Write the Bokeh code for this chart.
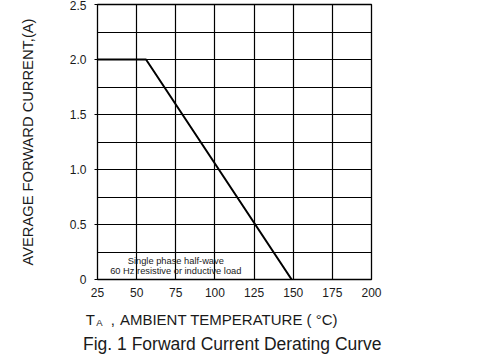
from bokeh.plotting import figure
from bokeh.models import Range1d, FixedTicker, Label, Div
from bokeh.layouts import column
from bokeh.embed import file_html
from bokeh.resources import INLINE

# data
temp_c = [25, 56, 149]
current_a = [2.0, 2.0, 0.0]
x_ticks = [25, 50, 75, 100, 125, 150, 175, 200]
y_ticks = [0, 0.5, 1.0, 1.5, 2.0, 2.5]
y_tick_labels = ["0", "0.5", "1.0", "1.5", "2.0", "2.5"]
y_grid = [0, 0.25, 0.5, 0.75, 1.0, 1.25, 1.5, 1.75, 2.0, 2.25, 2.5]
note_lines = ["Single phase half-wave", "60 Hz resistive or inductive load"]
y_title = "AVERAGE FORWARD CURRENT,(A)"
x_title_main, x_title_sub, x_title_rest, x_title_unit = "T", "A", ",", "AMBIENT TEMPERATURE (  °C)"
caption = "Fig. 1 Forward Current Derating Curve"

FONT = "Liberation Sans"
TXT = "#1a1a1a"

p = figure(width=482, height=302, output_backend="svg", toolbar_location=None,
           x_range=Range1d(25, 200), y_range=Range1d(0, 2.5),
           min_border_left=97, min_border_right=111, min_border_top=4, min_border_bottom=23)
p.background_fill_color = "white"
p.border_fill_color = "white"
p.outline_line_color = "black"
p.outline_line_width = 1.3

p.xaxis.ticker = FixedTicker(ticks=x_ticks)
p.yaxis.ticker = FixedTicker(ticks=y_ticks)
p.yaxis.major_label_overrides = {t: l for t, l in zip(y_ticks, y_tick_labels)}
p.xgrid.ticker = FixedTicker(ticks=x_ticks)
p.ygrid.ticker = FixedTicker(ticks=y_grid)
for g in (p.xgrid, p.ygrid):
    g.grid_line_color = "black"
    g.grid_line_width = 1.2
    g.grid_line_alpha = 1.0

for ax in (p.xaxis, p.yaxis):
    ax.axis_line_color = None
    ax.minor_tick_line_color = None
    ax.major_label_text_font = FONT
    ax.major_label_text_font_size = "12px"
    ax.major_label_text_color = TXT
    ax.major_tick_in = 0
p.xaxis.major_tick_line_color = None
p.xaxis.major_tick_out = 0
p.xaxis.major_label_standoff = 8
p.yaxis.major_tick_line_color = "black"
p.yaxis.major_tick_out = 3
p.yaxis.major_label_standoff = 8

p.yaxis.axis_label = y_title
p.yaxis.axis_label_text_font = FONT
p.yaxis.axis_label_text_font_size = "14.7px"
p.yaxis.axis_label_text_font_style = "normal"
p.yaxis.axis_label_text_color = TXT
p.yaxis.axis_label_standoff = 31

p.line(temp_c, current_a, line_color="black", line_width=2)

for i, t in enumerate(note_lines):
    p.add_layout(Label(x=75, y=0, y_offset=19 - 10.5 * i, text=t,
                       text_align="center", text_baseline="alphabetic",
                       text_font=FONT, text_font_size="9.3px", text_color=TXT))

html = (
    f'<div style="font-family:\'{FONT}\';color:{TXT};white-space:nowrap;">'
    f'<div style="margin-top:5px;height:15px;line-height:15px;font-size:15px;padding-left:80.7px;">'
    f'<span>{x_title_main}</span>'
    f'<span style="font-size:9.5px;margin-left:1.5px;vertical-align:-1px;">{x_title_sub}</span>'
    f'<span style="margin-left:8px;">{x_title_rest}</span>'
    f'<span style="margin-left:5px;">{x_title_unit}</span>'
    f'</div>'
    f'<div style="margin-top:8.1px;height:18px;line-height:18px;font-size:17.5px;padding-left:78px;">'
    f'{caption}</div>'
    f'</div>'
)
div = Div(text=html, width=482, height=56)

layout = column(p, div, spacing=0)
open("out.html", "w").write(file_html(layout, INLINE))
